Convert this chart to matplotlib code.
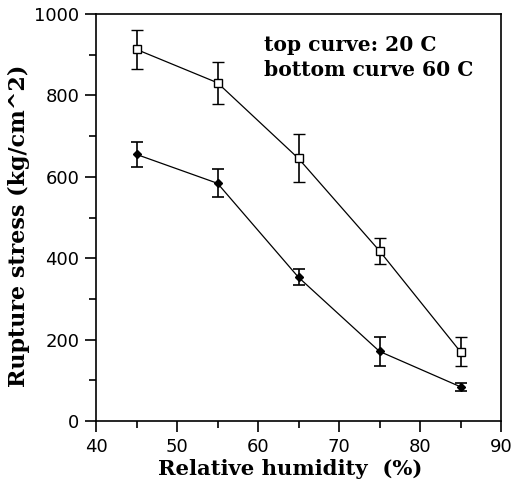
import matplotlib
matplotlib.use("Agg")
import matplotlib.pyplot as plt
from matplotlib.ticker import MultipleLocator

humidity = [45, 55, 65, 75, 85]
stress_20C = [913, 831, 645, 418, 170]
err_20C = [48, 51, 59, 32, 36]
stress_60C = [655, 584, 353, 171, 84]
err_60C = [30, 34, 20, 36, 10]

fig = plt.figure(figsize=(5.11, 4.84), dpi=100)
ax = fig.add_axes([96/511, 63/484, 405/511, 407/484])

ax.errorbar(humidity, stress_20C, yerr=err_20C, color='black', lw=0.9,
            marker='s', ms=6, mfc='white', mec='black', mew=1.0,
            capsize=4.5, elinewidth=1.2, capthick=1.2)
ax.plot(humidity, stress_20C, linestyle='none', marker='.', ms=1.5, color='black')
ax.errorbar(humidity, stress_60C, yerr=err_60C, color='black', lw=0.9,
            marker='D', ms=4.5, mfc='black', mec='black',
            capsize=4.5, elinewidth=1.2, capthick=1.2)

ax.set_xlim(40, 90)
ax.set_ylim(0, 1000)
ax.xaxis.set_major_locator(MultipleLocator(10))
ax.xaxis.set_minor_locator(MultipleLocator(5))
ax.yaxis.set_major_locator(MultipleLocator(200))
ax.yaxis.set_minor_locator(MultipleLocator(100))
ax.tick_params(which='major', direction='out', length=8, width=1.2,
               labelsize=13, pad=4)
ax.tick_params(which='minor', direction='out', length=5, width=1.2)
for lbl in ax.get_xticklabels() + ax.get_yticklabels():
    lbl.set_fontfamily('DejaVu Sans')
for s in ax.spines.values():
    s.set_linewidth(1.2)

serif = dict(family='DejaVu Serif', weight='bold', size=14.6)
ax.set_xlabel('Relative humidity  (%)', fontdict=dict(serif, size=15.2))
ax.set_ylabel('Rupture stress (kg/cm^2)', fontdict=dict(serif, size=16))
ax.xaxis.set_label_coords(0.48, -0.094)
ax.yaxis.set_label_coords(-0.163, 0.479)

ax.text(0.415, 0.948, 'top curve: 20 C\nbottom curve 60 C', transform=ax.transAxes,
        ha='left', va='top', linespacing=1.3, **serif)

fig.savefig('out.png', dpi=100)
